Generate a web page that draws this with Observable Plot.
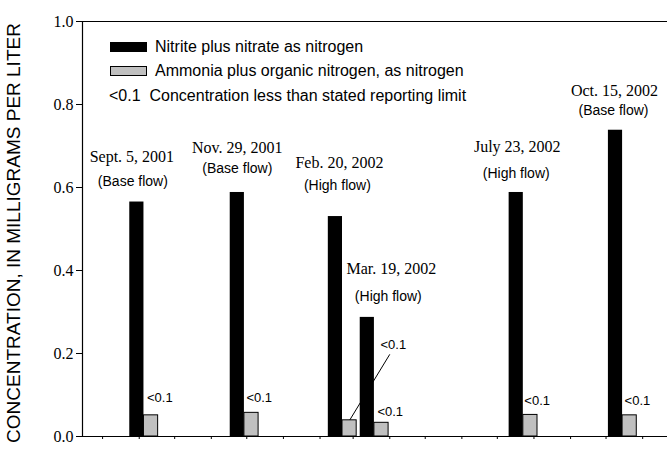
<!DOCTYPE html>
<html><head><meta charset="utf-8">
<script src="https://cdn.jsdelivr.net/npm/d3@7"></script>
<script src="https://cdn.jsdelivr.net/npm/@observablehq/plot@0.6"></script>
<style>
body{margin:0;background:#fff;}
#wrap{position:relative;width:667px;height:453px;overflow:hidden;background:#fff;}
#wrap svg{position:absolute;left:0;top:0;}
.ytitle{position:absolute;left:14px;top:233px;transform:translate(-50%,-50%) rotate(-90deg);white-space:nowrap;font:19px "Liberation Sans",Arial,sans-serif;color:#000;}
.leg{position:absolute;font:16px "Liberation Sans",Arial,sans-serif;color:#000;white-space:nowrap;line-height:1;}
.sw{position:absolute;width:37px;height:10px;box-sizing:border-box;}
</style></head><body><div id="wrap"></div>
<script>
// ---- data ----
const sampleDates = ["2001-09-05","2001-11-29","2002-02-20","2002-03-19","2002-07-23","2002-10-15"];
const dateLabels = ["Sept. 5, 2001","Nov. 29, 2001","Feb. 20, 2002","Mar. 19, 2002","July 23, 2002","Oct. 15, 2002"];
const flowLabels = ["(Base flow)","(Base flow)","(High flow)","(High flow)","(High flow)","(Base flow)"];
const nitriteNitrate = [0.565, 0.588, 0.530, 0.287, 0.588, 0.738];
const ammoniaOrganic = [0.051, 0.057, 0.039, 0.033, 0.052, 0.051];
const belowLimit = ["<0.1","<0.1","<0.1","<0.1","<0.1","<0.1"];
const yTicks = [0.0, 0.2, 0.4, 0.6, 0.8, 1.0];
const seriesNames = ["Nitrite plus nitrate as nitrogen", "Ammonia plus organic nitrogen, as nitrogen"];
const noteText = "Concentration less than stated reporting limit";
const yTitle = "CONCENTRATION, IN MILLIGRAMS PER LITER";

const rows = sampleDates.map((d, i) => ({
  date: new Date(d + "T00:00:00Z"),
  label: dateLabels[i], flow: flowLabels[i],
  no3: nitriteNitrate[i], nh: ammoniaOrganic[i], lim: belowLimit[i]
}));

// ---- layout (annotation nudges, in pixels) ----
const barDays = 12;
const labelLayout = [
  {dx:-5, dy1:-45, fdx:-4, dy2:-21},
  {dx:0,  dy1:-45, fdx:0,  dy2:-24},
  {dx:4,  dy1:-54, fdx:2,  dy2:-31},
  {dx:24, dy1:-49, fdx:21, dy2:-21},
  {dx:1,  dy1:-46, fdx:0,  dy2:-19},
  {dx:-1, dy1:-39, fdx:-2, dy2:-20}
];
const limLayout = [
  {dx:3, dy:-18}, {dx:2, dy:-15}, {dx:38, dy:-75}, {dx:3, dy:-11}, {dx:1, dy:-14}, {dx:2, dy:-15}
];
const serif = "'Liberation Serif','Times New Roman',serif";
const sans = "'Liberation Sans',Arial,sans-serif";
const narrow = "'Liberation Sans Narrow','Arial Narrow','Liberation Sans',sans-serif";

const off = (d, n) => d3.utcDay.offset(d, n);
const feb = rows[2];

const marks = [
  // leader line from Feb. "<0.1" label to Feb. gray bar (drawn behind the Mar. bar)
  Plot.link([feb], {
    x1: d => off(d.date, 6), y1: d => d.nh,
    x2: d => off(d.date, 40), y2: d => d.nh + 0.159,
    stroke: "#000", strokeWidth: 1
  }),
  Plot.rect(rows, {x1: d => off(d.date, -barDays), x2: d => d.date, y1: 0, y2: "no3", fill: "#000"}),
  Plot.rect(rows, {x1: d => d.date, x2: d => off(d.date, barDays), y1: 0, y2: "nh", fill: "#c0c0c0", stroke: "#000", strokeWidth: 1}),
  Plot.ruleY([0, 1], {stroke: "#000", strokeWidth: 1.2}),
  Plot.ruleX([new Date("2001-07-15T00:00:00Z")], {stroke: "#000", strokeWidth: 1.2}),
  Plot.axisY({ticks: yTicks, tickFormat: d3.format(".1f"), tickSize: 6, tickPadding: 3, label: null,
    fontSize: 16, fontFamily: serif}),
  Plot.axisX({ticks: d3.utcMonth.every(1), tickFormat: () => "", tickSize: 3, label: null}),
];
rows.forEach((d, i) => {
  const L = labelLayout[i];
  marks.push(Plot.text([d], {x: r => off(r.date, -barDays/2), y: "no3", text: "label", dx: L.dx, dy: L.dy1,
    fontFamily: serif, fontSize: 16, fill: "#000"}));
  marks.push(Plot.text([d], {x: r => off(r.date, -barDays/2), y: "no3", text: "flow", dx: L.fdx, dy: L.dy2,
    fontFamily: narrow, fontSize: 14, fill: "#000"}));
  const M = limLayout[i];
  marks.push(Plot.text([d], {x: "date", y: "nh", text: "lim", dx: M.dx, dy: M.dy, textAnchor: "start",
    fontFamily: sans, fontSize: 13, fill: "#000"}));
});

const chart = Plot.plot({
  width: 667, height: 453,
  marginLeft: 82, marginTop: 21, marginBottom: 17, marginRight: 0,
  style: {background: "#fff", color: "#000", overflow: "visible"},
  x: {type: "utc", domain: [new Date("2001-07-15T00:00:00Z"), new Date("2002-11-22T00:00:00Z")]},
  y: {domain: [0, 1]},
  marks
});

const wrap = document.getElementById("wrap");
wrap.appendChild(chart);

const t = document.createElement("div");
t.className = "ytitle"; t.textContent = yTitle; wrap.appendChild(t);

function addSwatch(x, y, fill, border) {
  const s = document.createElement("div");
  s.className = "sw"; s.style.left = x + "px"; s.style.top = y + "px";
  s.style.background = fill; s.style.border = border; wrap.appendChild(s);
}
function addText(x, yc, txt, font) {
  const e = document.createElement("div");
  e.className = "leg"; e.style.left = x + "px"; e.style.top = (yc - 8) + "px";
  if (font) e.style.font = font;
  e.textContent = txt; wrap.appendChild(e);
}
addSwatch(110, 42, "#000", "none");
addText(155, 47, seriesNames[0]);
addSwatch(110, 66, "#c0c0c0", "1px solid #000");
addText(155, 71, seriesNames[1]);
addText(109, 96, belowLimit[0] + "\u00a0\u00a0" + noteText);
</script></body></html>
